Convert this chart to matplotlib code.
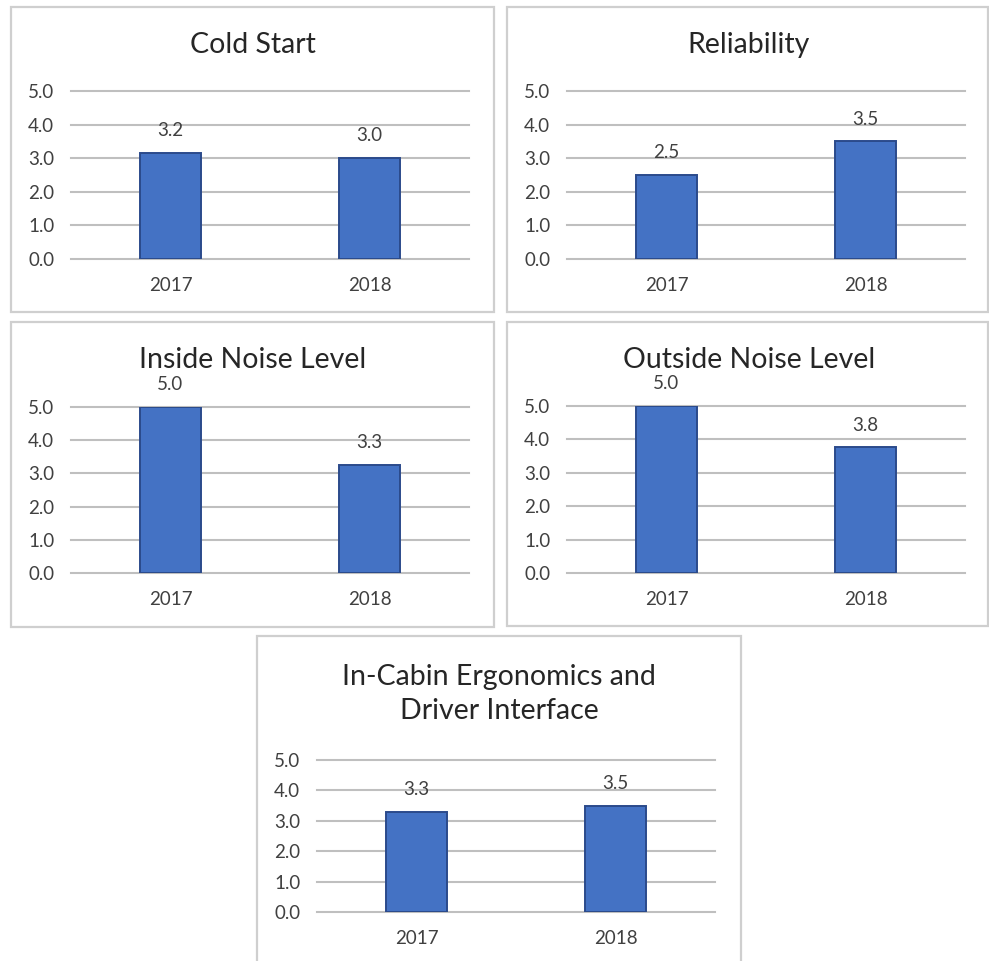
import matplotlib.pyplot as plt
from matplotlib.patches import Rectangle

plt.rcParams['font.family'] = ['Lato', 'DejaVu Sans']

# datos
anios = ['2017', '2018']
titulos = ['Cold Start', 'Reliability', 'Inside Noise Level', 'Outside Noise Level',
           'In-Cabin Ergonomics and\nDriver Interface']
cold_start = [3.16, 3.0]
reliability = [2.5, 3.5]
inside_noise = [5.0, 3.26]
outside_noise = [5.0, 3.76]
ergonomics = [3.3, 3.5]
series = [cold_start, reliability, inside_noise, outside_noise, ergonomics]
yticks = [0, 1, 2, 3, 4, 5]

W, H = 989, 961
fig = plt.figure(figsize=(W / 100, H / 100), dpi=100)

# cajas en pixeles: (x0, x1, y_top, y_bottom)
ejes = [(71, 469, 91, 259), (567, 965, 91, 259), (71, 469, 407, 573),
        (567, 965, 406, 573), (317, 715, 760, 912)]
marcos = [(11, 494, 7, 312), (507, 988, 7, 312), (11, 494, 322, 627),
          (507, 988, 322, 626), (257, 741, 636, 975)]
pos_titulo = [(253, 45), (749, 45), (253, 360), (749, 360), (499, 694)]

AZUL = '#4472C4'
BORDE = '#2B4A8B'
GRIS = '#BFBFBF'
TEXTO = '#404040'

for i in range(5):
    mx0, mx1, my0, my1 = marcos[i]
    fig.patches.append(Rectangle((mx0 / W, 1 - my1 / H), (mx1 - mx0) / W, (my1 - my0) / H,
                                 transform=fig.transFigure, fill=False,
                                 edgecolor='#CFCFCF', linewidth=1.6))

    x0, x1, y0, y1 = ejes[i]
    ax = fig.add_axes([x0 / W, 1 - y1 / H, (x1 - x0) / W, (y1 - y0) / H])
    vals = series[i]
    ax.bar(range(len(anios)), vals, width=0.31, color=AZUL, edgecolor=BORDE,
           linewidth=1.4, zorder=3)
    for k, v in enumerate(vals):
        ax.annotate(f"{v:.1f}", (k, v), xytext=(0, 16), textcoords='offset points',
                    ha='center', va='center', fontsize=13.5, color=TEXTO,
                    annotation_clip=False)
    ax.set_xlim(-0.5, 1.5)
    ax.set_ylim(0, 5)
    ax.set_yticks(yticks)
    ax.set_yticklabels([f"{t:.1f}" for t in yticks])
    ax.set_xticks(range(len(anios)))
    ax.set_xticklabels(anios)
    ax.tick_params(axis='both', length=0, labelsize=13.5, labelcolor=TEXTO)
    ax.tick_params(axis='x', pad=13)
    ax.tick_params(axis='y', pad=12)
    ax.grid(axis='y', color=GRIS, linewidth=1.5, zorder=0)
    ax.set_axisbelow(True)
    for s in ax.spines.values():
        s.set_visible(False)
    # linea del 0 y del 5 visibles sin recorte
    for g in ax.get_ygridlines():
        g.set_clip_on(False)

    tx, ty = pos_titulo[i]
    fig.text(tx / W, 1 - ty / H, titulos[i], ha='center', va='center',
             fontsize=20.5, color='#262626', linespacing=1.35)

fig.savefig('out.png', dpi=100, facecolor='white')
